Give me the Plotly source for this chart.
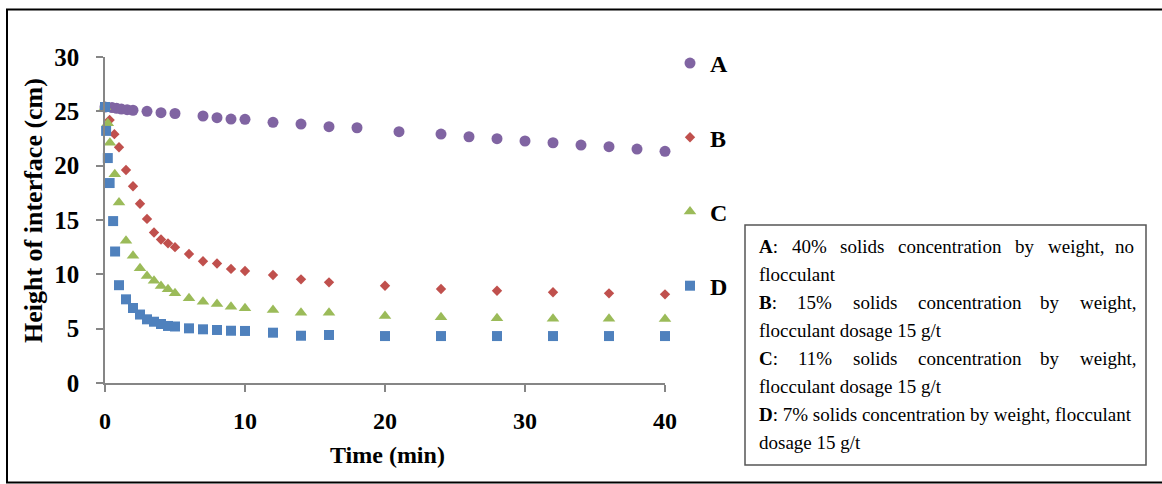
import plotly.graph_objects as go

# Settling test: height of the slurry/supernatant interface over time
time_a = [0, 0.5, 0.83, 1.17, 1.58, 2, 3, 4, 5, 7, 8, 9, 10, 12, 14, 16, 18, 21, 24, 26, 28, 30, 32, 34, 36, 38, 40]
height_a = [25.4, 25.35, 25.28, 25.21, 25.15, 25.1, 25.0, 24.88, 24.8, 24.57, 24.42, 24.29, 24.26, 23.99,
            23.83, 23.59, 23.49, 23.13, 22.91, 22.66, 22.48, 22.27, 22.11, 21.9, 21.75, 21.53, 21.32]

time_b = [0, 0.33, 0.67, 1, 1.5, 2, 2.5, 3, 3.5, 4, 4.5, 5, 6, 7, 8, 9, 10, 12, 14, 16, 20, 24, 28, 32, 36, 40]
height_b = [25.4, 24.2, 22.9, 21.7, 19.6, 18.1, 16.5, 15.1, 13.85, 13.2, 12.85, 12.5, 11.87, 11.2, 11.0,
            10.5, 10.3, 9.94, 9.54, 9.26, 8.95, 8.65, 8.49, 8.35, 8.25, 8.16]

time_c = [0, 0.2, 0.35, 0.7, 1, 1.5, 2, 2.5, 3, 3.5, 4, 4.5, 5, 6, 7, 8, 9, 10, 12, 14, 16, 20, 24, 28, 32, 36, 40]
height_c = [25.4, 23.9, 22.1, 19.2, 16.6, 13.1, 11.7, 10.55, 9.85, 9.4, 8.93, 8.62, 8.25, 7.79, 7.48, 7.27,
            7.02, 6.87, 6.72, 6.47, 6.47, 6.17, 6.05, 5.95, 5.92, 5.92, 5.89]

time_d = [0, 0.08, 0.2, 0.33, 0.58, 0.72, 1, 1.5, 2, 2.5, 3, 3.5, 4, 4.5, 5, 6, 7, 8, 9, 10, 12, 14, 16,
          20, 24, 28, 32, 36, 40]
height_d = [25.4, 23.2, 20.7, 18.4, 14.9, 12.1, 9.0, 7.7, 6.9, 6.3, 5.86, 5.64, 5.43, 5.25, 5.2, 5.03, 4.94,
            4.88, 4.81, 4.79, 4.63, 4.35, 4.42, 4.32, 4.32, 4.32, 4.32, 4.32, 4.32]

series_names = ["A", "B", "C", "D"]
x_ticks = [0, 10, 20, 30, 40]
y_ticks = [0, 5, 10, 15, 20, 25, 30]

# Caption lines; justified lines are given word by word with their left edges (px)
caption_justified = {
    0: [("<b>A</b>:", 757), ("40%", 790), ("solids", 838), ("concentration", 896), ("by", 1013),
        ("weight,", 1046), ("no", 1113)],
    2: [("<b>B</b>:", 757), ("15%", 795), ("solids", 851), ("concentration", 916), ("by", 1038),
        ("weight,", 1078)],
    4: [("<b>C</b>:", 757), ("11%", 796), ("solids", 851), ("concentration", 916), ("by", 1038),
        ("weight,", 1078)],
}
caption_plain = {
    1: "flocculant",
    3: "flocculant dosage 15 g/t",
    5: "flocculant dosage 15 g/t",
    6: "<b>D</b>: 7% solids concentration by weight, flocculant",
    7: "dosage 15 g/t",
}

W, H = 1162, 484
L, R, T, B = 105, 497, 57, 101
PW, PH = W - L - R, H - T - B
SERIF = "Times New Roman, Liberation Serif, serif"
AXIS_GREY = "#868686"


def px_x(px):
    return (px - L) / PW


def px_y(py):
    return (H - B - py) / PH


styles = [
    dict(symbol="circle", color="#8064A2", size=11),
    dict(symbol="diamond", color="#C0504D", size=8),
    dict(symbol="triangle-up", color="#9BBB59", size=11),
    dict(symbol="square", color="#4F81BD", size=10),
]
data = [(time_a, height_a), (time_b, height_b), (time_c, height_c), (time_d, height_d)]

fig = go.Figure()
for name, (xs, ys), st in zip(series_names, data, styles):
    fig.add_trace(go.Scatter(
        x=xs, y=ys, mode="markers", name=f"<b>{name}</b>", legendgroup=name,
        marker=dict(symbol=st["symbol"], color=st["color"], size=st["size"], line=dict(width=0)),
        cliponaxis=False,
    ))

annotations = []
annotations.append(dict(x=px_x(33), y=px_y(211), xref="paper", yref="paper", text="<b>Height of interface (cm)</b>",
                        textangle=-90, showarrow=False, font=dict(family=SERIF, size=26, color="black"),
                        xanchor="center", yanchor="middle"))
annotations.append(dict(x=px_x(387), y=px_y(455), xref="paper", yref="paper", text="<b>Time (min)</b>",
                        showarrow=False, font=dict(family=SERIF, size=24, color="black"),
                        xanchor="center", yanchor="middle"))

line_y0, line_step = 246, 28.1
cap_font = dict(family=SERIF, size=19, color="black")
for i, words in caption_justified.items():
    for word, left in words:
        annotations.append(dict(x=px_x(left), y=px_y(line_y0 + i * line_step), xref="paper", yref="paper",
                                text=word, showarrow=False, font=cap_font, xanchor="left", yanchor="middle"))
for i, text in caption_plain.items():
    annotations.append(dict(x=px_x(757), y=px_y(line_y0 + i * line_step), xref="paper", yref="paper",
                            text=text, showarrow=False, font=cap_font, xanchor="left", yanchor="middle"))

shapes = [
    dict(type="rect", xref="paper", yref="paper", x0=px_x(745), x1=px_x(1146), y0=px_y(225), y1=px_y(465),
         line=dict(color="#555555", width=1.5)),
    dict(type="rect", xref="paper", yref="paper", x0=px_x(7), x1=px_x(1180), y0=px_y(9.5), y1=px_y(482.5),
         line=dict(color="black", width=2)),
]

fig.update_layout(
    width=W, height=H,
    margin=dict(l=L, r=R, t=T, b=B, pad=0),
    paper_bgcolor="white", plot_bgcolor="white",
    showlegend=True,
    legend=dict(x=px_x(670), y=px_y(41), xanchor="left", yanchor="top", traceorder="grouped",
                tracegroupgap=40, font=dict(family=SERIF, size=24, color="black"),
                bgcolor="rgba(0,0,0,0)", itemsizing="trace", maxheight=440),
    annotations=annotations,
    shapes=shapes,
    xaxis=dict(range=[0, 40], tickvals=x_ticks, ticktext=[f"<b>{v}</b>" for v in x_ticks],
               showgrid=False, zeroline=False, showline=True,
               linecolor=AXIS_GREY, linewidth=1.5, ticks="outside", ticklen=7, tickcolor=AXIS_GREY,
               tickwidth=1.5, ticklabelstandoff=8,
               tickfont=dict(family=SERIF, size=24, color="black")),
    yaxis=dict(range=[0, 30], tickvals=y_ticks, ticktext=[f"<b>{v}</b>" for v in y_ticks],
               showgrid=False, zeroline=False, showline=True,
               linecolor=AXIS_GREY, linewidth=1.5, ticks="outside", ticklen=7, tickcolor=AXIS_GREY,
               tickwidth=1.5, ticklabelstandoff=12,
               tickfont=dict(family=SERIF, size=25, color="black")),
)

fig.write_html("out.html")
